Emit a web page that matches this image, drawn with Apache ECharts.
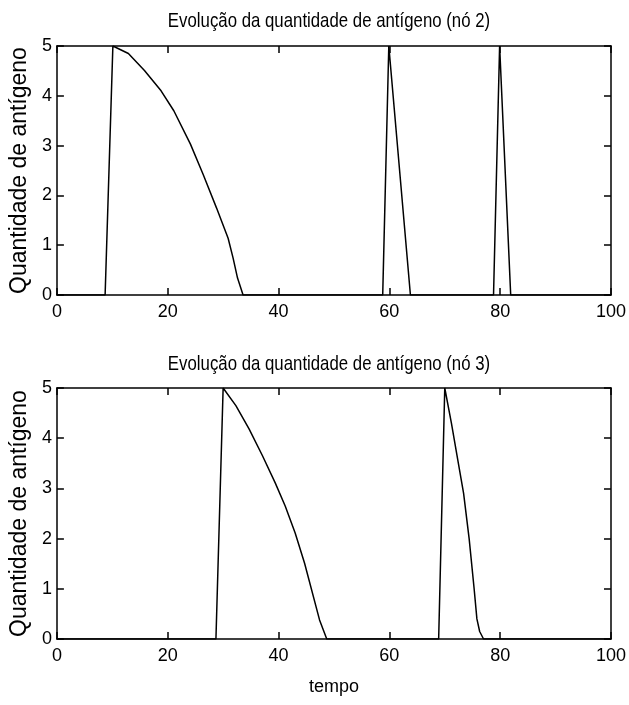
<!DOCTYPE html>
<html>
<head>
<meta charset="utf-8">
<script src="https://cdn.jsdelivr.net/npm/echarts@6/dist/echarts.min.js"></script>
<style>
  html, body { margin: 0; padding: 0; background: #ffffff; }
  #chart { width: 629px; height: 705px; }
</style>
</head>
<body>
<div id="chart"></div>
<script>
// ---- data ----
const titles = ['Evolução da quantidade de antígeno (nó 2)', 'Evolução da quantidade de antígeno (nó 3)'];
const yName = 'Quantidade de antígeno';
const xName = 'tempo';

// node 2
const tempo2 = [0, 8.7, 10.1, 12.9, 15.8, 18.8, 21.1, 24.1, 26.4, 28.8, 30.9, 31.8, 32.6, 33.6,
                58.8, 59.9, 63.8, 78.8, 79.9, 81.9, 100];
const antigeno2 = [0, 0, 5, 4.85, 4.51, 4.1, 3.7, 3.03, 2.42, 1.75, 1.14, 0.74, 0.34, 0,
                   0, 5, 0, 0, 5, 0, 0];

// node 3
const tempo3 = [0, 28.7, 30.0, 32.3, 34.7, 37.1, 39.4, 41.2, 43.0, 44.7, 47.4, 48.7,
                68.9, 70.0, 71.2, 72.3, 73.4, 74.4, 75.3, 75.8, 76.3, 77.0, 100];
const antigeno3 = [0, 0, 5, 4.65, 4.18, 3.65, 3.11, 2.65, 2.11, 1.51, 0.38, 0,
                   0, 5, 4.3, 3.6, 2.9, 2.0, 1.0, 0.4, 0.15, 0, 0];

const xTickValues = [0, 20, 40, 60, 80, 100];
const yTickValues = [0, 1, 2, 3, 4, 5];

// ---- chart ----
const fam = "'Liberation Sans', Arial, sans-serif";

const grids = [
  { left: 47, top: 46, width: 565, height: 249 },
  { left: 47, top: 388, width: 565, height: 251 }
];

function zip(xs, ys) { return xs.map((x, i) => [x, ys[i]]); }

const axisLine = { show: true, onZero: false, lineStyle: { color: '#000', width: 1.5 } };
const tickIn = { show: true, inside: true, length: 7, lineStyle: { color: '#000', width: 1.5 } };

const xAxes = [], yAxes = [];
grids.forEach((g, i) => {
  xAxes.push({
    type: 'value', gridIndex: i, position: 'bottom',
    min: xTickValues[0], max: xTickValues[xTickValues.length - 1], interval: 20,
    axisLine, axisTick: tickIn, splitLine: { show: false },
    axisLabel: { color: '#000', fontFamily: fam, fontSize: 18, margin: 8 },
    name: i === 1 ? xName : '', nameLocation: 'middle', nameGap: 39,
    nameTextStyle: { color: '#000', fontFamily: fam, fontSize: 18 }
  });
  xAxes.push({
    type: 'value', gridIndex: i, position: 'top',
    min: 0, max: 100, interval: 20,
    axisLine, axisTick: tickIn, axisLabel: { show: false }, splitLine: { show: false }
  });
  yAxes.push({
    type: 'value', gridIndex: i, position: 'left',
    min: yTickValues[0], max: yTickValues[yTickValues.length - 1], interval: 1,
    axisLine, axisTick: tickIn, splitLine: { show: false },
    axisLabel: { color: '#000', fontFamily: fam, fontSize: 18, margin: 5 },
    name: yName, nameLocation: 'middle', nameGap: 15,
    nameTextStyle: { color: '#000', fontFamily: fam, fontSize: 23 }
  });
  yAxes.push({
    type: 'value', gridIndex: i, position: 'right',
    min: 0, max: 5, interval: 1,
    axisLine, axisTick: tickIn, axisLabel: { show: false }, splitLine: { show: false }
  });
});

const option = {
  backgroundColor: '#ffffff',
  animation: false,
  grid: grids,
  xAxis: xAxes,
  yAxis: yAxes,
  graphic: titles.map((t, i) => ({
    type: 'text',
    x: 329, y: i === 0 ? 21 : 364,
    scaleX: 0.8,
    style: {
      text: t, fill: '#000', font: "21px 'Liberation Sans', Arial, sans-serif",
      textAlign: 'center', textVerticalAlign: 'middle'
    }
  })),
  series: [
    { type: 'line', xAxisIndex: 0, yAxisIndex: 0, data: zip(tempo2, antigeno2),
      showSymbol: false, lineStyle: { color: '#000', width: 1.5 } },
    { type: 'line', xAxisIndex: 2, yAxisIndex: 2, data: zip(tempo3, antigeno3),
      showSymbol: false, lineStyle: { color: '#000', width: 1.5 } }
  ]
};

const chart = echarts.init(document.getElementById('chart'), null, { renderer: 'canvas' });
chart.setOption(option);
</script>
</body>
</html>
